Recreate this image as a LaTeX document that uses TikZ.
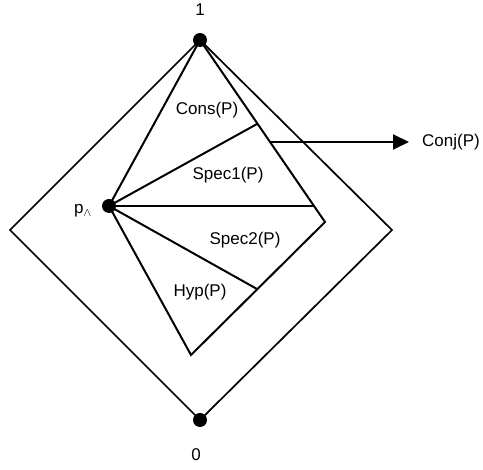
\documentclass[tikz,border=0pt]{standalone}
\usepackage{fontspec}
\setmainfont{Liberation Sans}
\usetikzlibrary{arrows.meta}
\begin{document}
\begin{tikzpicture}[x=1pt,y=-1pt,
  edge/.style={line width=2pt,line join=miter},
  frame/.style={line width=1.7pt},
  dot/.style={circle,fill=black,inner sep=0pt,minimum size=14pt},
  lbl/.style={font=\fontsize{17}{20}\selectfont,inner sep=0pt}]
\useasboundingbox (0,0) rectangle (483,470);
% outer diamond
\node[dot] (top) at (200,40) {};
\node[dot] (bot) at (200,420) {};
\coordinate (L) at (10,230);
\coordinate (R) at (392,230);
\draw[frame] (top.center) -- (L) -- (bot.center) -- (R) -- cycle;
% inner quadrilateral
\node[dot] (p) at (109,206) {};
\coordinate (ir) at (325,222);
\coordinate (ib) at (191,355);
\coordinate (c1) at (257,124);
\coordinate (c2) at (314,206);
\coordinate (c3) at (257,289);
\coordinate (cj) at (270,142);
\draw[edge] (top.center) -- (ir) -- (ib) -- (p.center) -- cycle;
\draw[edge] (p.center) -- (c1);
\draw[edge] (p.center) -- (c2);
\draw[edge] (p.center) -- (c3);
% arrow to Conj(P)
\node[lbl,anchor=west] (conj) at (422,142) {Conj(P)};
\coordinate (tip) at (409,142);
\draw[edge,-{Triangle[length=16pt,width=15pt]}] (cj) -- (tip);
% labels
\node[lbl] (one) at (200,10) {1};
\node[lbl] (zero) at (196,455) {0};
\node[lbl] (pl) at (83,211) {p\textsubscript{$\wedge$}};
\node[lbl] (cons) at (207,110) {Cons(P)};
\node[lbl] (s1) at (228,175) {Spec1(P)};
\node[lbl] (s2) at (245,240) {Spec2(P)};
\node[lbl] (hyp) at (200,292) {Hyp(P)};
\end{tikzpicture}
\end{document}
